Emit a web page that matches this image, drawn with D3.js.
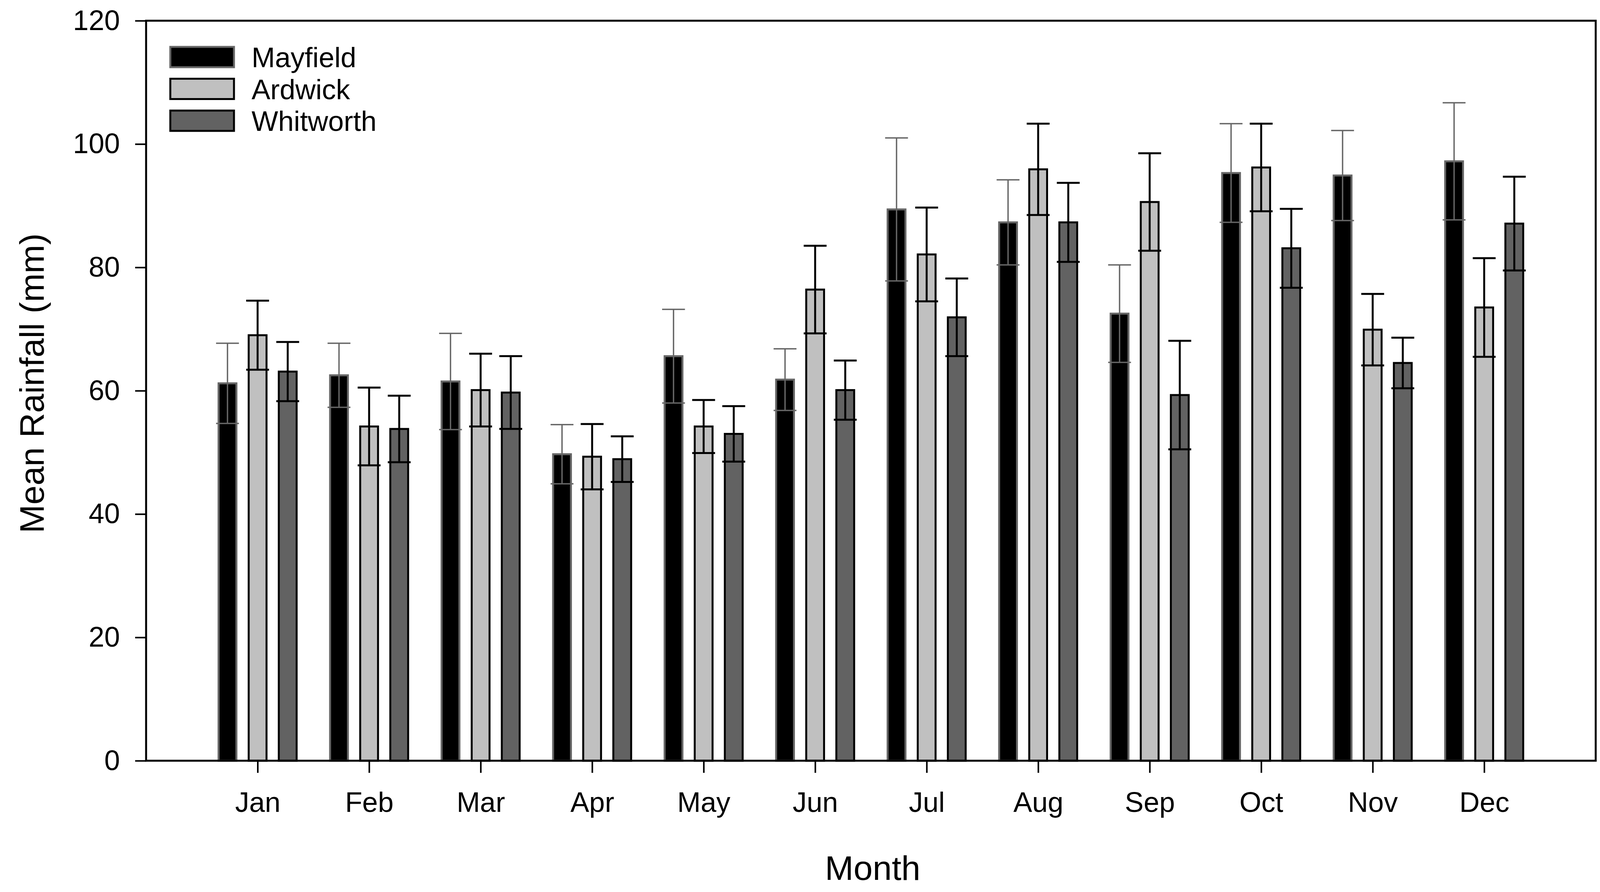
<!DOCTYPE html>
<html>
<head>
<meta charset="utf-8">
<script src="https://cdn.jsdelivr.net/npm/d3@7"></script>
<style>
body { margin: 0; background: #ffffff; }
text { font-family: Arial, "Liberation Sans", sans-serif; fill: #000; }
</style>
</head>
<body>
<svg id="chart" width="4120" height="2283"></svg>
<script>
// Mean monthly rainfall, three sites

var months = ["Jan","Feb","Mar","Apr","May","Jun","Jul","Aug","Sep","Oct","Nov","Dec"];
var sites = ["Mayfield","Ardwick","Whitworth"];

var mayfield     = [61.2, 62.5, 61.5, 49.7, 65.6, 61.8, 89.4, 87.3, 72.5, 95.3, 94.9, 97.2];
var mayfieldErr  = [ 6.5,  5.2,  7.8,  4.8,  7.6,  5.0, 11.6,  6.9,  7.9,  8.0,  7.3,  9.5];
var ardwick      = [69.0, 54.2, 60.1, 49.3, 54.2, 76.4, 82.1, 95.9, 90.6, 96.2, 69.9, 73.5];
var ardwickErr   = [ 5.6,  6.3,  5.9,  5.3,  4.3,  7.1,  7.6,  7.4,  7.9,  7.1,  5.8,  8.0];
var whitworth    = [63.1, 53.8, 59.7, 48.9, 53.0, 60.1, 71.9, 87.3, 59.3, 83.1, 64.5, 87.1];
var whitworthErr = [ 4.8,  5.4,  5.9,  3.7,  4.5,  4.8,  6.3,  6.4,  8.8,  6.4,  4.1,  7.6];

var yTicks = [0, 20, 40, 60, 80, 100, 120];

var means = [mayfield, ardwick, whitworth];
var errs = [mayfieldErr, ardwickErr, whitworthErr];

// look of each site: fill, outline, error bar colour + width
var fills   = ["#000000", "#c0c0c0", "#626262"];
var strokes = ["#666666", "#000000", "#000000"];
var errCol  = ["#666666", "#000000", "#000000"];
var errW    = [3.5, 5, 5];

var svg = d3.select("#chart");
svg.append("rect").attr("width", 4120).attr("height", 2283).style("fill", "#ffffff");

// plot frame (note: "top" is taken by window.top)
var plotL = 374, plotR = 4085, plotT = 53, plotB = 1947;

// months sit at 1..12, frame runs 0..13
var x = d3.scaleLinear().domain([0, 13]).range([plotL, plotR]);
var y = d3.scaleLinear().domain([0, 120]).range([plotB, plotT]);

var slot = x(1) - x(0);
var offset = 0.27 * slot;
var barW = 0.16 * slot;
var capW = 0.205 * slot;

// flatten to rows
var rows = [];
months.forEach(function (m, i) {
	sites.forEach(function (s, k) {
		rows.push({month: i, site: k, mean: means[k][i], err: errs[k][i]});
	});
});

function cx(d) {
	return x(d.month + 1) + (d.site - 1) * offset;
}

// bars
svg.selectAll(".bar")
	.data(rows)
	.enter()
	.append("rect")
	.attr("class", "bar")
	.attr("x", function (d) { return cx(d) - barW / 2; })
	.attr("y", function (d) { return y(d.mean); })
	.attr("width", barW)
	.attr("height", function (d) { return y(0) - y(d.mean); })
	.style("fill", function (d) { return fills[d.site]; })
	.style("stroke", function (d) { return strokes[d.site]; })
	.style("stroke-width", 5);

// error bars
var eb = svg.selectAll(".err")
	.data(rows)
	.enter()
	.append("g")
	.attr("class", "err")
	.style("stroke", function (d) { return errCol[d.site]; })
	.style("stroke-width", function (d) { return errW[d.site]; });

eb.append("line")
	.attr("x1", cx).attr("x2", cx)
	.attr("y1", function (d) { return y(d.mean - d.err); })
	.attr("y2", function (d) { return y(d.mean + d.err); });

eb.append("line")
	.attr("x1", function (d) { return cx(d) - capW / 2; })
	.attr("x2", function (d) { return cx(d) + capW / 2; })
	.attr("y1", function (d) { return y(d.mean + d.err); })
	.attr("y2", function (d) { return y(d.mean + d.err); });

eb.append("line")
	.attr("x1", function (d) { return cx(d) - capW / 2; })
	.attr("x2", function (d) { return cx(d) + capW / 2; })
	.attr("y1", function (d) { return y(d.mean - d.err); })
	.attr("y2", function (d) { return y(d.mean - d.err); });

// axes
var yAxis = d3.axisLeft(y).tickValues(yTicks).tickSize(28).tickSizeOuter(0).tickPadding(39);
var gy = svg.append("g").attr("transform", "translate(" + plotL + ",0)").call(yAxis);

var xAxis = d3.axisBottom(x)
	.tickValues(d3.range(1, months.length + 1))
	.tickFormat(function (d) { return months[d - 1]; })
	.tickSize(31).tickSizeOuter(0).tickPadding(49);
var gx = svg.append("g").attr("transform", "translate(0," + plotB + ")").call(xAxis);

[gy, gx].forEach(function (g) {
	g.select(".domain").remove();
	g.selectAll(".tick line").style("stroke", "#000").style("stroke-width", 4);
	g.selectAll(".tick text").style("font-size", "72px").style("font-family", "Arial, 'Liberation Sans', sans-serif").style("fill", "#000");
});

// frame
svg.append("rect")
	.attr("x", plotL).attr("y", plotT)
	.attr("width", plotR - plotL).attr("height", plotB - plotT)
	.style("fill", "none").style("stroke", "#000").style("stroke-width", 5);

// titles
svg.append("text")
	.attr("transform", "translate(112,981) rotate(-90)")
	.attr("text-anchor", "middle")
	.style("font-size", "88px")
	.text("Mean Rainfall (mm)");

svg.append("text")
	.attr("x", 2234).attr("y", 2252)
	.attr("text-anchor", "middle")
	.style("font-size", "88px")
	.text("Month");

// legend
var lg = svg.selectAll(".leg")
	.data(sites)
	.enter()
	.append("g")
	.attr("class", "leg")
	.attr("transform", function (d, i) { return "translate(436," + (120 + i * 81.5) + ")"; });

lg.append("rect")
	.attr("width", 163).attr("height", 52)
	.style("fill", function (d, i) { return fills[i]; })
	.style("stroke", function (d, i) { return strokes[i]; })
	.style("stroke-width", 5);

lg.append("text")
	.attr("x", 208).attr("y", 52)
	.style("font-size", "72px")
	.text(function (d) { return d; });
</script>
</body>
</html>
